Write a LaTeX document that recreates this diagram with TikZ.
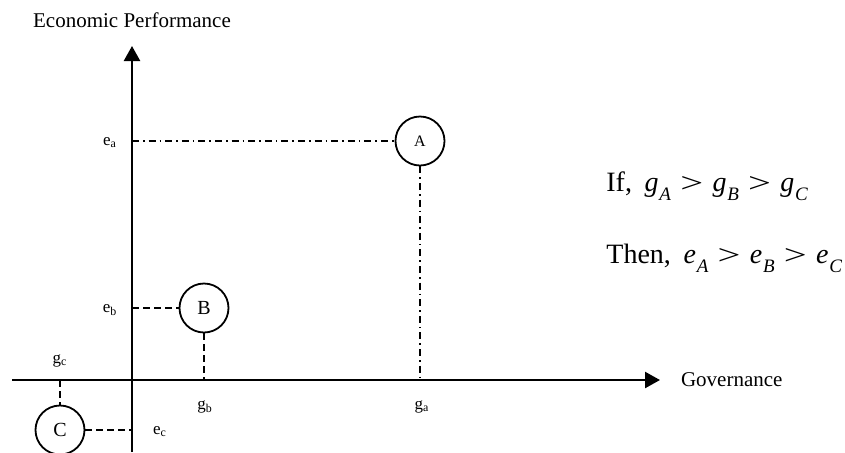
\documentclass[tikz,border=0pt]{standalone}
\usepackage{fontspec}
\setmainfont{Liberation Serif}
\usetikzlibrary{positioning}
\usetikzlibrary{arrows.meta}

\newcommand{\sublab}[2]{#1\textsubscript{#2}}
\newcommand{\ivar}[2]{\textit{#1}\kern0.03em\raisebox{-0.33em}{\fontsize{9.5}{10}\selectfont\textit{#2}}}
\newcommand{\gtr}{\hspace{0.33em}\raisebox{-0.1ex}{\scalebox{1.45}[1]{>}}\hspace{0.33em}}

\begin{document}
\begin{tikzpicture}[x=0.5pt, y=-0.5pt,
    axis/.style={line width=1.2pt, -{Triangle[length=7.5pt,width=8pt]}},
    point/.style={draw, circle, line width=0.9pt, minimum size=24.5pt, inner sep=0pt},
    dotdash/.style={line width=0.8pt, dash pattern=on 3.5pt off 2pt on 0.8pt off 2pt},
    guide/.style={line width=0.8pt, dash pattern=on 3.5pt off 2pt},
    tick/.style={font=\fontsize{8.5}{10}\selectfont},
    title/.style={font=\fontsize{10.5}{12}\selectfont},
    rule/.style={anchor=west, inner sep=0pt, font=\fontsize{14}{16}\selectfont}]

    \useasboundingbox (0,0) rectangle (845,452);

    % axes
    \coordinate (xl) at (12,380);
    \coordinate (xr) at (660,380);
    \coordinate (yb) at (132,452);
    \coordinate (yt) at (132,46);
    \draw[axis] (xl) -- (xr);
    \draw[axis] (yb) -- (yt);
    \node[title, anchor=west, right=7pt of xr] (gov) {Governance};
    \node[title] (econ) at (132,20) {Economic Performance};

    % points
    \node[point, font=\fontsize{8}{9}\selectfont] (A) at (420,141) {A};
    \node[point, font=\fontsize{10}{11}\selectfont] (B) at (204,308) {B};
    \node[point, font=\fontsize{10}{11}\selectfont] (C) at (60,430) {C};

    \coordinate (ea) at (132,141);
    \coordinate (ga) at (420,380);
    \coordinate (eb) at (132,308);
    \coordinate (gb) at (204,380);
    \coordinate (ec) at (132,430);
    \coordinate (gc) at (60,380);

    \draw[dotdash] (ea) -- (A);
    \draw[dotdash] (A) -- (ga);
    \draw[guide] (eb) -- (B);
    \draw[guide] (B) -- (gb);
    \draw[guide] (C) -- (ec);
    \draw[guide] (gc) -- (C);

    % tick labels
    \node[tick] (lea) at (110,143) {\sublab{e}{a}};
    \node[tick] (leb) at (110,310) {\sublab{e}{b}};
    \node[tick] (lec) at (160,432) {\sublab{e}{c}};
    \node[tick] (lga) at (422,407) {\sublab{g}{a}};
    \node[tick] (lgb) at (205,407) {\sublab{g}{b}};
    \node[tick] (lgc) at (60,361) {\sublab{g}{c}};

    % statement
    \node[rule] (cond) at (606,186)
        {If,\hspace{0.45em}\ivar{g}{A}\gtr\ivar{g}{B}\gtr\ivar{g}{C}};
    \node[rule] (res) at (606,258)
        {Then,\hspace{0.45em}\ivar{e}{A}\gtr\ivar{e}{B}\gtr\ivar{e}{C}};
\end{tikzpicture}
\end{document}
